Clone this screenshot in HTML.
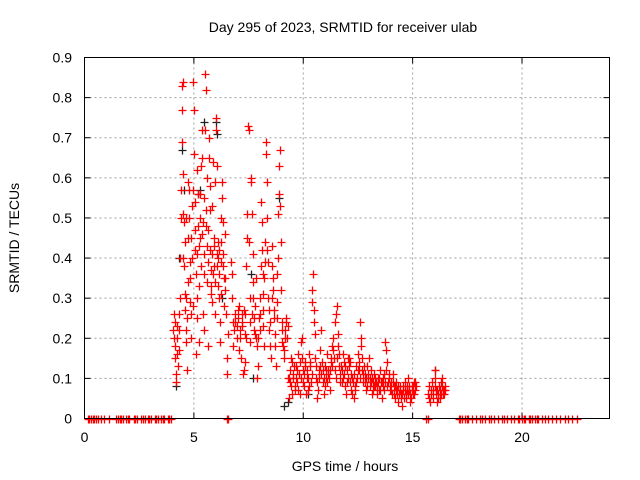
<!DOCTYPE html>
<html><head><meta charset="utf-8"><style>
html,body{margin:0;padding:0;background:#fff}
svg{display:block;font-family:"Liberation Sans",sans-serif}
</style></head><body>
<svg id="chart" width="640" height="480" viewBox="0 0 640 480">
<text x="343" y="32" font-size="14" text-anchor="middle" fill="#000">Day 295 of 2023, SRMTID for receiver ulab</text>
<text x="19" y="238" font-size="14" text-anchor="middle" fill="#000" transform="rotate(-90 19 238)">SRMTID / TECUs</text>
<text x="345" y="471" font-size="14" text-anchor="middle" fill="#000">GPS time / hours</text>
<g id="grid"></g>
<g id="ticks"></g>
<g id="black"></g>
<g id="red"></g>
<rect x="84.5" y="57.5" width="525" height="361" fill="none" stroke="#000" stroke-width="1"/>
</svg>
<script>
const xTicks=[0,5,10,15,20];
const yTicks=[0,0.1,0.2,0.3,0.4,0.5,0.6,0.7,0.8,0.9];
const yTickLabels=["0","0.1","0.2","0.3","0.4","0.5","0.6","0.7","0.8","0.9"];
const zeroTimes=[0.15,0.22,0.3,0.38,0.45,0.52,0.6,0.75,0.9,1.1,1.45,1.52,1.6,1.68,1.75,1.9,1.97,2.05,2.25,2.32,2.4,2.6,2.68,2.75,2.9,2.97,3.05,3.2,3.28,3.35,3.5,3.58,3.65,3.8,3.88,3.95,6.5,6.58,15.6,15.68,17.1,17.18,17.25,17.4,17.48,17.55,17.7,17.9,18.1,18.18,18.3,18.5,18.58,18.7,18.9,19.1,19.18,19.3,19.5,19.65,19.8,19.88,20.0,20.08,20.15,20.3,20.38,20.45,20.6,20.68,20.75,20.9,21.05,21.2,21.35,21.55,21.75,21.95,22.1,22.3,22.5];
const redPts=[[4.05,.22],[4.1,.26],[4.12,.18],[4.15,.15],[4.18,.11],[4.2,.09],[4.22,.23],[4.25,.2],[4.28,.13],[4.3,.17],[4.33,.22],[4.35,.3],[4.38,.4],[4.4,.5],[4.42,.57],[4.45,.69],[4.45,.77],[4.47,.83],[4.48,.84],[4.5,.61],[4.52,.51],[4.55,.49],[4.55,.38],[4.58,.31],[4.6,.27],[4.62,.22],[4.65,.19],[4.68,.12],[4.7,.25],[4.72,.45],[4.75,.59],[4.78,.57],[4.8,.35],[4.82,.29],[4.85,.2],[4.88,.26],[4.9,.4],[4.92,.53],[4.95,.57],[4.98,.84],[5.0,.77],[5.02,.66],[5.05,.54],[5.08,.36],[5.1,.16],[5.12,.25],[5.15,.62],[5.18,.56],[5.2,.48],[5.22,.33],[5.25,.19],[5.28,.45],[5.3,.5],[5.32,.63],[5.35,.72],[5.38,.65],[5.4,.49],[5.42,.26],[5.45,.22],[5.48,.36],[5.5,.72],[5.52,.86],[5.55,.82],[5.58,.6],[5.6,.43],[5.62,.34],[5.65,.18],[5.68,.65],[5.7,.7],[5.72,.52],[5.75,.42],[5.78,.37],[5.8,.31],[5.82,.29],[5.85,.53],[5.88,.64],[5.9,.45],[5.92,.38],[5.95,.26],[5.98,.59],[6.0,.72],[6.02,.75],[6.05,.63],[6.08,.44],[6.1,.4],[6.12,.33],[6.15,.3],[6.18,.24],[6.2,.19],[6.22,.39],[6.25,.5],[6.28,.59],[6.3,.55],[6.32,.49],[6.35,.41],[6.38,.35],[6.4,.46],[6.42,.32],[6.45,.26],[6.5,.15],[6.52,.11],[6.55,.21],
[4.08,.2],[4.14,.24],[4.24,.16],[4.32,.26],[4.5,.4],[4.58,.44],[4.62,.5],[4.66,.3],[4.74,.34],[4.76,.5],[4.84,.39],[4.86,.45],[4.96,.28],[5.04,.42],[5.06,.47],[5.14,.41],[5.16,.3],[5.24,.43],[5.26,.56],[5.34,.38],[5.36,.46],[5.44,.41],[5.46,.55],[5.54,.52],[5.56,.48],[5.64,.47],[5.66,.39],[5.74,.58],[5.76,.33],[5.84,.41],[5.86,.36],[5.94,.43],[5.96,.34],[6.04,.38],[6.06,.41],[6.14,.36],[6.16,.42],[6.24,.31],[6.26,.44],[6.34,.38],[6.36,.28],[6.44,.35],
[6.7,.39],[6.72,.36],[6.75,.3],[6.78,.24],[6.8,.18],[6.85,.22],[6.9,.26],[6.95,.2],[7.0,.25],[7.05,.17],[7.08,.28],[7.1,.2],[7.15,.15],[7.18,.23],[7.2,.26],[7.25,.11],[7.28,.12],[7.3,.27],[7.32,.14],[7.35,.21],[7.4,.38],[7.42,.45],[7.45,.51],[7.48,.73],[7.5,.72],[7.52,.44],[7.55,.3],[7.58,.19],[7.6,.6],[7.62,.59],[7.65,.51],[7.68,.41],[7.7,.34],[7.72,.3],[7.75,.25],[7.8,.21],[7.85,.35],[7.88,.18],[7.9,.1],[7.92,.13],[7.95,.2],[8.0,.3],[8.02,.26],[8.05,.38],[8.08,.54],[8.1,.49],[8.12,.42],[8.15,.36],[8.18,.23],[8.2,.18],[8.25,.44],[8.28,.69],[8.3,.66],[8.32,.59],[8.35,.5],[8.38,.39],[8.4,.3],[8.45,.22],[8.5,.18],[8.52,.15],[8.55,.43],[8.58,.38],[8.6,.32],[8.65,.25],[8.7,.21],[8.75,.13],[8.8,.36],[8.85,.51],[8.88,.56],[8.9,.63],[8.92,.67],[8.95,.53],[8.98,.44],[9.0,.32],[9.02,.24],[9.05,.19],[9.08,.18],[9.1,.15],[9.15,.22],[9.2,.25],[9.25,.2],[9.28,.23],[9.3,.1],
[6.88,.24],[6.98,.23],[7.02,.27],[7.12,.22],[7.22,.24],[7.34,.26],[7.38,.2],[7.56,.24],[7.64,.26],[7.74,.22],[7.78,.28],[7.84,.2],[7.98,.25],[8.04,.22],[8.14,.31],[8.16,.27],[8.22,.35],[8.26,.39],[8.36,.42],[8.42,.27],[8.48,.24],[8.56,.3],[8.62,.35],[8.68,.27],[8.72,.18],[8.78,.25],[8.82,.29],[8.86,.4],[9.04,.22],[9.12,.17],[9.18,.2],[9.22,.24],
[9.35,.05],[9.4,.12],[9.45,.08],[9.5,.14],[9.55,.1],[9.6,.07],[9.65,.13],[9.7,.09],[9.75,.16],[9.8,.11],[9.85,.06],[9.9,.19],[9.95,.2],[10.0,.12],[10.05,.08],[10.1,.14],[10.15,.1],[10.2,.07],[10.25,.16],[10.3,.13],[10.35,.09],[10.4,.29],[10.42,.32],[10.45,.36],[10.47,.27],[10.5,.24],[10.52,.21],[10.55,.15],[10.6,.1],[10.65,.05],[10.7,.12],[10.75,.17],[10.8,.22],[10.85,.14],[10.9,.09],[10.95,.06],[11.0,.13],[11.05,.1],[11.1,.16],[11.15,.12],[11.2,.07],[11.25,.14],[11.3,.18],[11.35,.2],[11.4,.15],[11.45,.24],[11.5,.26],[11.55,.28],[11.6,.21],[11.65,.13],[11.7,.11],[11.75,.09],[11.8,.16],[11.85,.14],[11.9,.08],[11.95,.06],[12.0,.12],[12.05,.1],[12.1,.15],[12.15,.14],[12.2,.11],[12.25,.06],[12.3,.05],[12.35,.08],[12.4,.13],[12.45,.1],
[12.5,.16],[12.55,.12],[12.6,.24],[12.65,.2],[12.7,.15],[12.75,.11],[12.8,.09],[12.85,.07],[12.9,.13],[12.95,.1],[13.0,.15],[13.05,.08],[13.1,.12],[13.15,.06],[13.2,.09],[13.25,.11],[13.3,.08],[13.35,.06],[13.4,.1],[13.45,.07],[13.5,.12],[13.55,.09],[13.6,.05],[13.65,.08],[13.7,.11],[13.75,.19],[13.8,.17],[13.85,.14],[13.9,.1],[13.95,.07],[14.0,.09],[14.05,.06],[14.1,.11],[14.15,.08],[14.2,.05],[14.25,.09],[14.3,.07],[14.35,.04],[14.4,.08],[14.45,.06],[14.5,.03],[14.55,.07],[14.6,.05],[14.65,.09],[14.7,.06],[14.75,.08],[14.8,.1],[14.85,.07],[14.9,.04],[14.95,.08],[15.0,.06],[15.05,.09],[15.1,.07],[15.15,.08],
[15.7,.06],[15.75,.08],[15.8,.04],[15.85,.07],[15.9,.09],[15.95,.05],[16.0,.12],[16.02,.1],[16.05,.07],[16.1,.04],[16.15,.06],[16.2,.08],[16.25,.05],[16.3,.09],[16.35,.1],[16.4,.07],[16.45,.06],[16.5,.08],
[9.33,.1],[9.38,.09],[9.43,.15],[9.48,.06],[9.53,.11],[9.58,.13],[9.63,.08],[9.68,.1],[9.73,.12],[9.78,.07],[9.83,.14],[9.88,.1],[9.93,.15],[9.98,.09],[10.03,.11],[10.08,.13],[10.13,.06],[10.18,.12],[10.23,.1],[10.28,.08],[10.33,.14],[10.38,.11],[10.58,.13],[10.63,.09],[10.68,.07],[10.73,.1],[10.78,.13],[10.83,.11],[10.88,.12],[10.93,.1],[10.98,.08],[11.03,.12],[11.08,.09],[11.13,.11],[11.18,.1],[11.23,.12],[11.28,.15],[11.33,.13],[11.38,.17],[11.43,.12],[11.48,.1],[11.53,.15],[11.58,.18],[11.63,.16],[11.68,.09],[11.73,.13],[11.78,.12],[11.83,.1],[11.88,.11],[11.93,.13],[11.98,.09],[12.03,.15],[12.08,.13],[12.13,.09],[12.18,.07],[12.23,.1],[12.28,.09],[12.33,.11],[12.38,.07],[12.43,.09],[12.48,.12],[12.53,.14],[12.58,.1],[12.63,.18],[12.68,.12],[12.73,.09],[12.78,.13],[12.83,.11],[12.88,.1],[12.93,.08],[12.98,.11],[13.03,.1],[13.08,.09],[13.13,.1],[13.18,.07],[13.23,.08],[13.28,.1],[13.33,.09],[13.38,.08],[13.43,.09],[13.48,.1],[13.53,.07],[13.58,.09],[13.63,.1],[13.68,.07],[13.73,.09],[13.78,.12],[13.83,.08],[13.88,.09],[13.93,.11],[13.98,.08],[14.03,.07],[14.08,.09],[14.13,.06],[14.18,.08],[14.23,.07],[14.28,.06],[14.33,.08],[14.38,.06],[14.43,.07],[14.48,.05],[14.53,.06],[14.58,.08],[14.63,.07],[14.68,.05],[14.73,.07],[14.78,.06],[14.83,.08],[14.88,.06],[14.93,.05],[14.98,.07],[15.03,.08],[15.08,.06],[15.13,.09],[15.73,.05],[15.83,.06],[15.93,.07],[16.03,.08],[16.08,.06],[16.13,.07],[16.18,.05],[16.23,.07],[16.28,.06],[16.33,.08],[16.38,.06],[16.43,.07],[16.48,.07]];
const blackPts=[[4.2,.08],[4.3,.4],[4.45,.67],[4.55,.57],[5.2,.56],[5.3,.57],[5.45,.74],[6.0,.74],[6.05,.71],[7.6,.36],[8.9,.55],[9.1,.03],[9.3,.04],[10.2,.06],[16.0,.12],[7.7,.1],[6.3,.3]];
const X0=84.5,XS=21.875,Y0=418.5,YS=401.1;
function xs(t){return X0+t*XS;}
function ys(v){return Y0-v*YS;}
const NS='http://www.w3.org/2000/svg';
function mk(tag,attrs,parent){const e=document.createElementNS(NS,tag);for(const k in attrs)e.setAttribute(k,attrs[k]);parent.appendChild(e);return e;}
const grid=document.getElementById('grid'),ticks=document.getElementById('ticks');
xTicks.forEach(t=>{
  const x=xs(t);
  if(t>0){const g=mk('line',{x1:x,x2:x,y1:57.5,y2:418.5,stroke:'#a0a0a0','stroke-dasharray':'2,3'},grid);
  
  }
  mk('line',{x1:x,x2:x,y1:418.5,y2:412.5,stroke:'#000'},ticks);
  mk('line',{x1:x,x2:x,y1:57.5,y2:63.5,stroke:'#000'},ticks);
  const l=mk('text',{x:x,y:442,'font-size':14,'text-anchor':'middle'},ticks);
  l.textContent=t;
  
  
});
yTicks.forEach((v,i)=>{
  const y=ys(v);
  if(v>0&&v<0.9){const g=mk('line',{x1:84.5,x2:609.5,y1:y,y2:y,stroke:'#a0a0a0','stroke-dasharray':'2,3'},grid);
  
  }
  mk('line',{x1:84.5,x2:90.5,y1:y,y2:y,stroke:'#000'},ticks);
  mk('line',{x1:609.5,x2:603.5,y1:y,y2:y,stroke:'#000'},ticks);
  const l=mk('text',{x:72,y:y+5,'font-size':14,'text-anchor':'end'},ticks);
  l.textContent=yTickLabels[i];
  
  
});
function plus(g,t,v,col){
  const x=Math.round(xs(t))+0.5,y=Math.round(ys(v))+0.5;
  const p=mk('path',{d:`M${x-4} ${y}H${x+4}M${x} ${y-4}V${y+4}`,stroke:col,'stroke-width':1.3,fill:'none'},g);
  
  
}
const bg=document.getElementById('black'),rg=document.getElementById('red');
blackPts.forEach(p=>plus(bg,p[0],p[1],'#222'));
redPts.forEach(p=>plus(rg,p[0],p[1],'#ff0000'));
zeroTimes.forEach(t=>plus(rg,t,0,'#ff0000'));
</script>
</body></html>
